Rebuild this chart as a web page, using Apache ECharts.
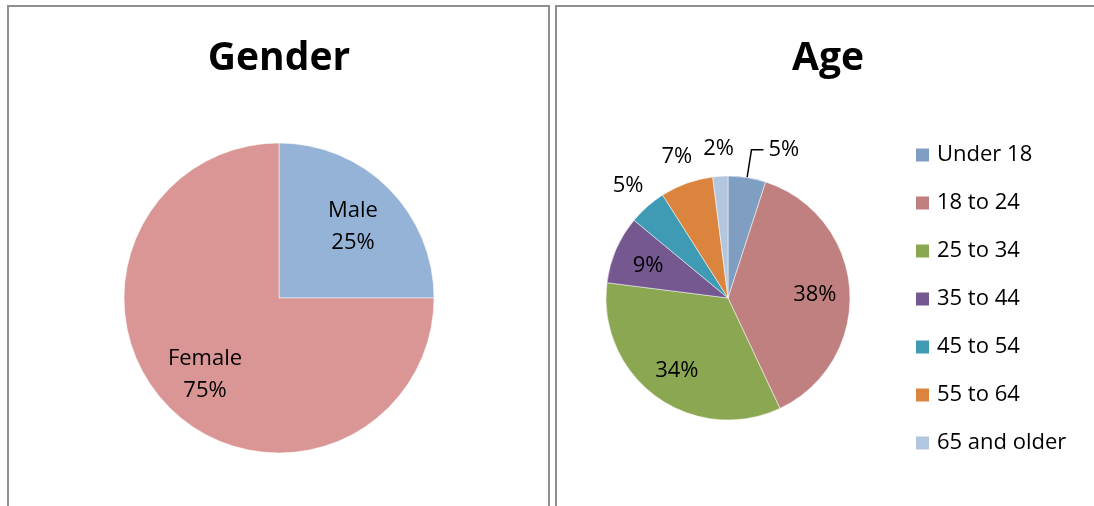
<!DOCTYPE html>
<html>
<head>
<meta charset="utf-8">
<script src="https://cdn.jsdelivr.net/npm/echarts@6/dist/echarts.min.js"></script>
<style>
  html, body { margin: 0; padding: 0; background: #fff; }
  #chart { width: 1094px; height: 506px; }
</style>
</head>
<body>
<div id="chart"></div>
<script>
// gender data
var genderNames = ['Male', 'Female'];
var genderValues = [25, 75];
var genderColors = ['#95B3D7', '#D99694'];

// age data
var ageNames = ['Under 18', '18 to 24', '25 to 34', '35 to 44', '45 to 54', '55 to 64', '65 and older'];
var ageValues = [5, 38, 34, 9, 5, 7, 2];
var ageColors = ['#809EC2', '#C0807F', '#8BA752', '#74588F', '#3F9BB3', '#DB843D', '#B3C6E0'];

var FONT = 'Open Sans';

// push inside labels out from the centre (excel puts them further out than echarts does)
function pushLabels(cx, cy, factorOf, dy) {
    return function (p) {
        var f = factorOf(p.dataIndex);
        if (!f) return;
        var r = p.labelRect;
        var lx = r.x + r.width / 2;
        var ly = r.y + r.height / 2;
        return { x: cx + (lx - cx) * f, y: cy + (ly - cy) * f + dy(p.dataIndex) };
    };
}

var chart = echarts.init(document.getElementById('chart'));

var option = {
    backgroundColor: '#fff',
    animation: false,
    textStyle: { fontFamily: FONT },
    title: [{
        text: 'Gender',
        left: 274,
        top: 34,
        textAlign: 'center',
        textStyle: { fontFamily: FONT, fontSize: 39, fontWeight: 'bold', color: '#000' }
    }, {
        text: 'Age',
        left: 823,
        top: 34,
        textAlign: 'center',
        textStyle: { fontFamily: FONT, fontSize: 39, fontWeight: 'bold', color: '#000' }
    }],
    legend: {
        orient: 'vertical',
        left: 909,
        top: 138,
        icon: 'rect',
        itemWidth: 15,
        itemHeight: 15,
        itemGap: 24,
        selectedMode: false,
        data: ageNames,
        textStyle: { fontFamily: FONT, fontSize: 22, color: '#000', lineHeight: 24, padding: [0, 0, 0, 2] }
    },
    graphic: [{
        type: 'rect',
        shape: { x: 8, y: 6, width: 541, height: 600 },
        style: { fill: null, stroke: '#8f8f8f', lineWidth: 2 },
        silent: true
    }, {
        type: 'rect',
        shape: { x: 556, y: 6, width: 600, height: 600 },
        style: { fill: null, stroke: '#8f8f8f', lineWidth: 2 },
        silent: true
    }],
    series: [{
        type: 'pie',
        center: [279, 298],
        radius: 155,
        startAngle: 90,
        clockwise: true,
        silent: true,
        emphasis: { disabled: true },
        itemStyle: { borderColor: '#fff', borderWidth: 0.5 },
        label: {
            position: 'inside',
            formatter: '{b}\n{d}%',
            fontFamily: FONT,
            fontSize: 22,
            lineHeight: 32,
            color: '#000'
        },
        labelLayout: pushLabels(279, 298, function () { return 1.3; }, function () { return 3; }),
        data: genderNames.map(function (n, i) {
            return { name: n, value: genderValues[i], itemStyle: { color: genderColors[i] } };
        })
    }, {
        type: 'pie',
        center: [728, 298],
        radius: 122,
        startAngle: 90,
        clockwise: true,
        silent: true,
        avoidLabelOverlap: false,
        emphasis: { disabled: true },
        itemStyle: { borderColor: '#fff', borderWidth: 0.5 },
        label: {
            position: 'inside',
            formatter: '{d}%',
            fontFamily: FONT,
            fontSize: 22,
            color: '#000'
        },
        labelLine: { show: false },
        labelLayout: pushLabels(728, 298, function (i) {
            if (i === 0) return null;
            return ageValues[i] >= 9 ? 1.36 : 2.36;
        }, function (i) {
            return ageValues[i] >= 9 ? 2 : 1;
        }),
        data: ageNames.map(function (n, i) {
            var item = { name: n, value: ageValues[i], itemStyle: { color: ageColors[i] } };
            if (i === 0) {
                // only the first slice gets a leader line
                item.label = { position: 'outside', distanceToLabelLine: 5 };
                item.labelLine = { show: true, length: 28, length2: 12, lineStyle: { color: '#000', width: 1.5 } };
            }
            return item;
        })
    }]
};

chart.setOption(option);
</script>
</body>
</html>
